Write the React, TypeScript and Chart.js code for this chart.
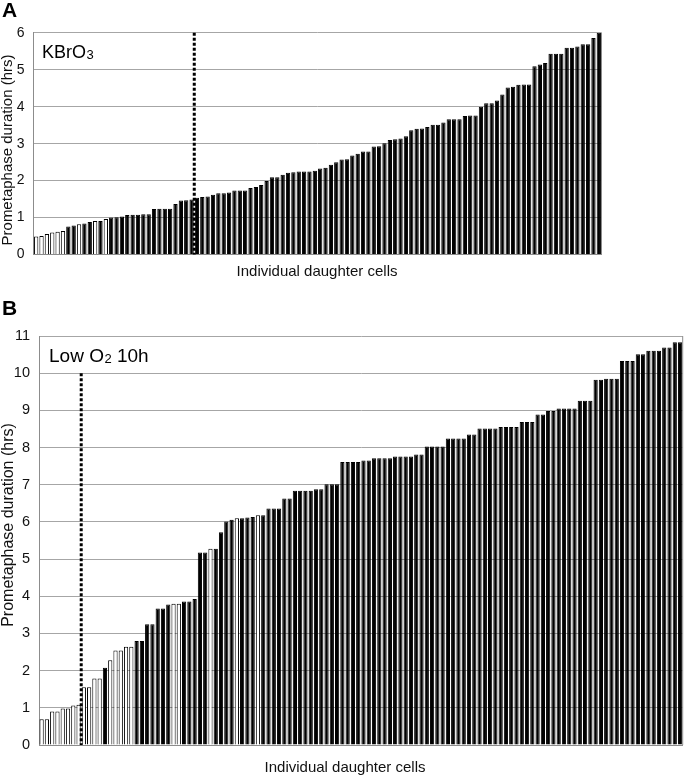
import { useEffect, useRef } from "react";
import { Chart, registerables } from "chart.js";

Chart.register(...registerables);

// ---------- DATA ----------
// Panel A: KBrO3 — prometaphase duration (hrs) per daughter cell, sorted
const kbro3Durations = [
  0.49, 0.5, 0.56, 0.6, 0.62, 0.64,
  0.76, 0.79, 0.82, 0.84, 0.88, 0.91, 0.91, 0.96,
  1.0, 1.01, 1.03, 1.07, 1.08, 1.08, 1.09, 1.09,
  1.23, 1.24, 1.24, 1.24,
  1.37, 1.46, 1.47, 1.49,
  1.54, 1.56, 1.57, 1.62, 1.66, 1.66,
  1.68, 1.73, 1.73, 1.73, 1.8, 1.83, 1.88, 1.99, 2.09, 2.09,
  2.16, 2.21, 2.23, 2.25, 2.25, 2.25, 2.27, 2.33, 2.35, 2.43,
  2.5, 2.57, 2.58, 2.68, 2.73, 2.79, 2.79, 2.92, 2.93, 3.01,
  3.1, 3.12, 3.14, 3.2, 3.36,
  3.4, 3.41, 3.45, 3.51, 3.51, 3.57, 3.66, 3.66, 3.66, 3.75,
  3.76, 3.76, 4.0, 4.09, 4.09, 4.17, 4.33, 4.52, 4.54, 4.59,
  4.6, 4.6, 5.09, 5.14, 5.18, 5.43, 5.43, 5.43, 5.59, 5.59,
  5.63, 5.69, 5.69, 5.86, 6.0,
];
// cells (1-based) drawn as open bars
const kbro3OpenCells = [1, 2, 3, 4, 5, 6, 9, 12, 14];
const kbro3DividerAfter = 30;
const kbro3YTicksMax = 6;

// Panel B: Low O2 10h
const lowO2Durations = [
  0.69, 0.69, 0.9, 0.9, 0.98, 0.98, 1.06, 1.08,
  1.55, 1.55, 1.79, 1.79, 2.08, 2.28, 2.54, 2.54, 2.64, 2.64, 2.8, 2.8,
  3.25, 3.25, 3.67, 3.67, 3.78, 3.8, 3.8, 3.86, 3.86, 3.93, 5.18, 5.18, 5.28, 5.28,
  5.72, 6.01, 6.06, 6.1, 6.1, 6.12, 6.13, 6.18, 6.18, 6.36, 6.36, 6.36, 6.63, 6.63,
  6.84, 6.84, 6.84, 6.84, 6.88, 6.88, 7.01, 7.01, 7.01,
  7.61, 7.61, 7.61, 7.61, 7.65, 7.65, 7.71, 7.71, 7.71, 7.71,
  7.76, 7.76, 7.76, 7.76, 7.81, 7.81, 8.03, 8.03, 8.03, 8.03,
  8.24, 8.24, 8.24, 8.24, 8.35, 8.35,
  8.51, 8.51, 8.51, 8.51, 8.55, 8.55, 8.55, 8.55, 8.69, 8.69, 8.69,
  8.89, 8.89, 8.98, 8.98, 9.05, 9.05, 9.05, 9.05, 9.26, 9.26, 9.26,
  9.82, 9.82, 9.85, 9.85, 9.85, 10.33, 10.33, 10.33, 10.51, 10.51,
  10.6, 10.6, 10.6, 10.69, 10.69, 10.83, 10.83,
];
const lowO2OpenCells = [1, 2, 3, 4, 5, 6, 7, 8, 9, 10, 11, 12, 14, 15, 16, 17, 18, 26, 27, 33, 38, 42];
const lowO2DividerAfter = 8;
const lowO2DividerTop = 10;
const lowO2YTicksMax = 11;

const yAxisTitle = "Prometaphase duration (hrs)";
const xAxisTitle = "Individual daughter cells";

// ---------- STYLE ----------
const FONT = "'Liberation Sans', Arial, Helvetica, sans-serif";
const W = 684;

type Panel = {
  letter: string;
  values: number[];
  open: number[];
  dividerAfter: number;
  dividerTop: number | null;
  yMax: number;
  canvasTop: number;
  canvasH: number;
  plotLeft: number;
  plotRight: number;
  plotTop: number;
  plotBottom: number;
  tickSize: number;
  yTitleSize: number;
  yTitleCenter: number;
  xTitleX: number;
  xTitleBaseline: number;
  inset: { main: string; sub: string; rest: string; x: number; y: number; size: number; subSize: number };
};

const panels: Panel[] = [
  {
    letter: "A",
    values: kbro3Durations,
    open: kbro3OpenCells,
    dividerAfter: kbro3DividerAfter,
    dividerTop: null,
    yMax: kbro3YTicksMax,
    canvasTop: 0,
    canvasH: 285,
    plotLeft: 33.5,
    plotRight: 601.5,
    plotTop: 32.7,
    plotBottom: 254.6,
    tickSize: 14,
    yTitleSize: 15,
    yTitleCenter: 150,
    xTitleX: 317,
    xTitleBaseline: 276,
    inset: { main: "KBrO", sub: "3", rest: "", x: 42, y: 58, size: 18, subSize: 13 },
  },
  {
    letter: "B",
    values: lowO2Durations,
    open: lowO2OpenCells,
    dividerAfter: lowO2DividerAfter,
    dividerTop: lowO2DividerTop,
    yMax: lowO2YTicksMax,
    canvasTop: 285,
    canvasH: 492,
    plotLeft: 39,
    plotRight: 682.7,
    plotTop: 51,
    plotBottom: 460,
    tickSize: 14.5,
    yTitleSize: 16,
    yTitleCenter: 240,
    xTitleX: 345,
    xTitleBaseline: 487,
    inset: { main: "Low O", sub: "2", rest: " 10h", x: 49, y: 77, size: 19, subSize: 13 },
  },
];

function PanelChart({ p }: { p: Panel }) {
  const ref = useRef<HTMLCanvasElement | null>(null);
  useEffect(() => {
    const canvas = ref.current;
    if (!canvas) return;
    const labels = p.values.map((_, i) => String(i + 1));
    const colors = p.values.map((_, i) => (p.open.includes(i + 1) ? "#ffffff" : "#000000"));

    const annot = {
      id: "annot" + p.letter,
      afterDatasetsDraw(chart: any) {
        const ctx = chart.ctx as CanvasRenderingContext2D;
        const area = chart.chartArea;
        const xs = chart.scales.x;
        const ys = chart.scales.y;
        ctx.save();
        // right frame line
        ctx.strokeStyle = "#8c8c8c";
        ctx.lineWidth = 1;
        ctx.beginPath();
        ctx.moveTo(area.right, area.top);
        ctx.lineTo(area.right, area.bottom);
        ctx.stroke();
        // dotted divider
        const dx = (xs.getPixelForValue(p.dividerAfter - 1) + xs.getPixelForValue(p.dividerAfter)) / 2;
        const top = p.dividerTop == null ? area.top : ys.getPixelForValue(p.dividerTop);
        ctx.strokeStyle = "#000";
        ctx.lineWidth = 3;
        ctx.setLineDash([3, 2]);
        ctx.beginPath();
        ctx.moveTo(dx, top);
        ctx.lineTo(dx, area.bottom);
        ctx.stroke();
        ctx.setLineDash([]);
        ctx.restore();
      },
      afterDraw(chart: any) {
        const ctx = chart.ctx as CanvasRenderingContext2D;
        ctx.save();
        ctx.fillStyle = "#000";
        ctx.textBaseline = "alphabetic";
        // panel letter
        ctx.font = `bold 21px ${FONT}`;
        ctx.textAlign = "left";
        ctx.fillText(p.letter, 2, p.letter === "A" ? 17 : 30);
        // inset label with subscript
        const ins = p.inset;
        ctx.font = `${ins.size}px ${FONT}`;
        ctx.fillText(ins.main, ins.x, ins.y);
        let x = ins.x + ctx.measureText(ins.main).width + 0.5;
        ctx.font = `${ins.subSize}px ${FONT}`;
        ctx.fillText(ins.sub, x, ins.y + 1);
        x += ctx.measureText(ins.sub).width;
        if (ins.rest) {
          ctx.font = `${ins.size}px ${FONT}`;
          ctx.fillText(ins.rest, x, ins.y);
        }
        // x title
        ctx.font = `${15}px ${FONT}`;
        ctx.textAlign = "center";
        ctx.fillStyle = "#111";
        ctx.fillText(xAxisTitle, p.xTitleX, p.xTitleBaseline);
        // y title
        ctx.translate(p.yTitleSize * 0.5 + 0.5, p.yTitleCenter);
        ctx.rotate(-Math.PI / 2);
        ctx.font = `${p.yTitleSize}px ${FONT}`;
        ctx.textAlign = "center";
        ctx.textBaseline = "middle";
        ctx.fillText(yAxisTitle, 0, 0);
        ctx.restore();
      },
    };

    const chart = new Chart(canvas, {
      type: "bar",
      data: {
        labels,
        datasets: [
          {
            data: p.values,
            backgroundColor: colors,
            borderColor: "#000000",
            borderWidth: 1,
            barPercentage: 0.8,
            categoryPercentage: 1,
          },
        ],
      },
      options: {
        responsive: false,
        animation: false,
        devicePixelRatio: 1,
        layout: { padding: { top: p.plotTop, right: W - p.plotRight, bottom: 0, left: 0 } },
        plugins: {
          legend: { display: false },
          tooltip: { enabled: false },
          title: { display: false },
        },
        scales: {
          x: {
            type: "category",
            offset: true,
            ticks: { display: false },
            grid: { display: false, drawTicks: false },
            border: { display: true, color: "#8c8c8c" },
            afterFit: (s: any) => {
              s.height = p.canvasH - p.plotBottom;
            },
          },
          y: {
            min: 0,
            max: p.yMax,
            ticks: {
              stepSize: 1,
              padding: 9,
              color: "#111",
              font: { family: FONT, size: p.tickSize },
            },
            grid: { color: "#a6a6a6", drawTicks: false, lineWidth: 1 },
            border: { display: true, color: "#8c8c8c" },
            afterFit: (s: any) => {
              s.width = p.plotLeft;
            },
          },
        },
      },
      plugins: [annot],
    } as any);
    return () => chart.destroy();
  }, [p]);

  return (
    <canvas
      ref={ref}
      width={W}
      height={p.canvasH}
      style={{ position: "absolute", left: 0, top: p.canvasTop, width: W, height: p.canvasH }}
    />
  );
}

export default function App() {
  return (
    <div style={{ position: "absolute", left: 0, top: 0, width: W, height: 777, background: "#fff" }}>
      {panels.map((p) => (
        <PanelChart key={p.letter} p={p} />
      ))}
    </div>
  );
}
